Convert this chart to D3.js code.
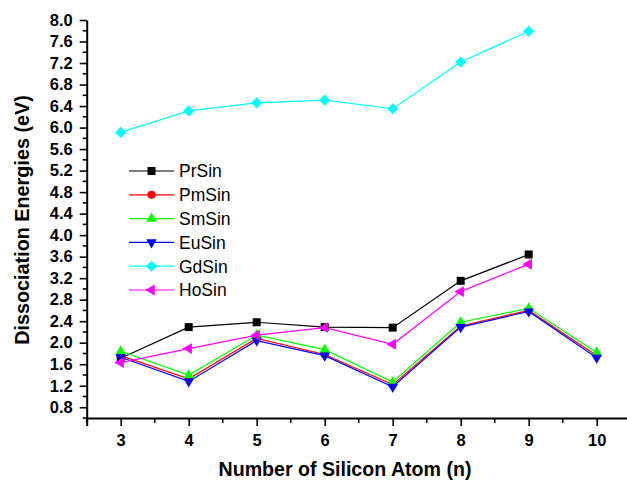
<!DOCTYPE html>
<html>
<head>
<meta charset="utf-8">
<script src="https://cdn.jsdelivr.net/npm/d3@7"></script>
<style>
  body { margin: 0; background: #fff; }
  svg { display: block; font-family: Arial, "Liberation Sans", sans-serif; }
</style>
</head>
<body>
<script>
var width = 627, height = 482;

// data
var atoms = [3, 4, 5, 6, 7, 8, 9, 10];
var prSin = [1.71, 2.29, 2.38, 2.29, 2.28, 3.15, 3.64];
var pmSin = [1.76, 1.33, 2.08, 1.78, 1.22, 2.31, 2.60, 1.76];
var smSin = [1.84, 1.40, 2.14, 1.87, 1.27, 2.38, 2.64, 1.82];
var euSin = [1.73, 1.28, 2.04, 1.76, 1.18, 2.29, 2.58, 1.72];
var gdSin = [5.91, 6.31, 6.46, 6.51, 6.35, 7.22, 7.79];
var hoSin = [1.63, 1.89, 2.14, 2.28, 1.97, 2.95, 3.46];

var yTicks = d3.range(8, 81, 4).map(d => d / 10);
var xTicks = atoms;

var series = [
  {name: "PrSin", values: prSin, color: "#000000", shape: "square"},
  {name: "PmSin", values: pmSin, color: "#ff0000", shape: "circle"},
  {name: "SmSin", values: smSin, color: "#00ff00", shape: "up"},
  {name: "EuSin", values: euSin, color: "#0000ff", shape: "down"},
  {name: "GdSin", values: gdSin, color: "#00ffff", shape: "diamond"},
  {name: "HoSin", values: hoSin, color: "#ff00ff", shape: "left"}
];

var x = d3.scaleLinear().domain([2.5, 10.5]).range([86.7, 630.7]);
var y = d3.scaleLinear().domain([0.6, 8.0]).range([418, 20]);

var svg = d3.select("body").append("svg")
    .attr("width", width)
    .attr("height", height);

// axes (left + bottom only, outward ticks)
var xAxis = svg.append("g")
    .attr("transform", `translate(0,${y(0.6)})`)
    .call(d3.axisBottom(x).tickValues(xTicks).tickFormat(d3.format("d")).tickSize(8).tickPadding(8))
xAxis.select(".domain").attr("stroke-width", 2)
xAxis.selectAll(".tick line").attr("stroke-width", 1.6)
xAxis.selectAll("text").attr("font-size", 16.5).attr("font-weight", "bold").attr("fill", "#000")
xAxis.append("g").selectAll("line")
    .data(d3.range(2.5, 10.6, 1))
    .join("line")
    .attr("x1", d => x(d)).attr("x2", d => x(d))
    .attr("y1", 0).attr("y2", 5)
    .attr("stroke", "#000").attr("stroke-width", 1.6)

var yAxis = svg.append("g")
    .attr("transform", `translate(${x(2.5)},0)`)
    .call(d3.axisLeft(y).tickValues(yTicks).tickFormat(d3.format(".1f")).tickSize(7).tickSizeOuter(0).tickPadding(7))
yAxis.select(".domain").attr("stroke-width", 2)
yAxis.selectAll(".tick line").attr("stroke-width", 1.6)
yAxis.selectAll("text").attr("font-size", 16.5).attr("font-weight", "bold").attr("fill", "#000")
yAxis.append("g").selectAll("line")
    .data(d3.range(6, 80, 4).map(d => d / 10))
    .join("line")
    .attr("y1", d => y(d)).attr("y2", d => y(d))
    .attr("x1", 0).attr("x2", -4)
    .attr("stroke", "#000").attr("stroke-width", 1.6)

// axis titles
svg.append("text")
    .attr("x", 345).attr("y", 476)
    .attr("text-anchor", "middle")
    .attr("font-size", 19.6).attr("font-weight", "bold")
    .text("Number of Silicon Atom (n)")

svg.append("text")
    .attr("transform", "translate(29,220) rotate(-90)")
    .attr("text-anchor", "middle")
    .attr("font-size", 19.8).attr("font-weight", "bold")
    .text("Dissociation Energies (eV)")

function markerPath(shape) {
  switch (shape) {
    case "square": return d3.symbol(d3.symbolSquare, 64)();
    case "circle": return d3.symbol(d3.symbolCircle, 52)();
    case "up": return d3.symbol(d3.symbolTriangle, 48)();
    case "down": return d3.symbol(d3.symbolTriangle, 48)();
    case "left": return d3.symbol(d3.symbolTriangle, 52)();
    case "diamond": return d3.symbol(d3.symbolSquare, 62)();
  }
}
function markerRotate(shape) {
  return {down: 180, left: -90, diamond: 45}[shape] || 0;
}

var line = d3.line()
    .x((d, i) => x(atoms[i]))
    .y(d => y(d));

var plot = svg.append("g");

series.forEach(s => {
  var g = plot.append("g");
  g.append("path")
      .attr("d", line(s.values))
      .attr("fill", "none")
      .attr("stroke", s.color)
      .attr("stroke-width", 1.2);
  g.selectAll("path.m")
    .data(s.values)
    .join("path")
      .attr("class", "m")
      .attr("d", markerPath(s.shape))
      .attr("transform", (d, i) => `translate(${x(atoms[i])},${y(d)}) rotate(${markerRotate(s.shape)})`)
      .attr("fill", s.color);
});

// legend
var legend = svg.append("g").attr("transform", "translate(129,171)");
var row = legend.selectAll("g")
  .data(series)
  .join("g")
    .attr("transform", (d, i) => `translate(0,${i * 23.8})`);
row.append("line")
    .attr("x1", 0).attr("x2", 45)
    .attr("stroke", d => d.color).attr("stroke-width", 1.2);
row.append("path")
    .attr("d", d => markerPath(d.shape))
    .attr("transform", d => `translate(22.5,0) rotate(${markerRotate(d.shape)})`)
    .attr("fill", d => d.color);
row.append("text")
    .attr("x", 50).attr("y", 0)
    .attr("dy", "0.36em")
    .attr("font-size", 17.5)
    .attr("fill", "#000")
    .text(d => d.name);
</script>
</body>
</html>
